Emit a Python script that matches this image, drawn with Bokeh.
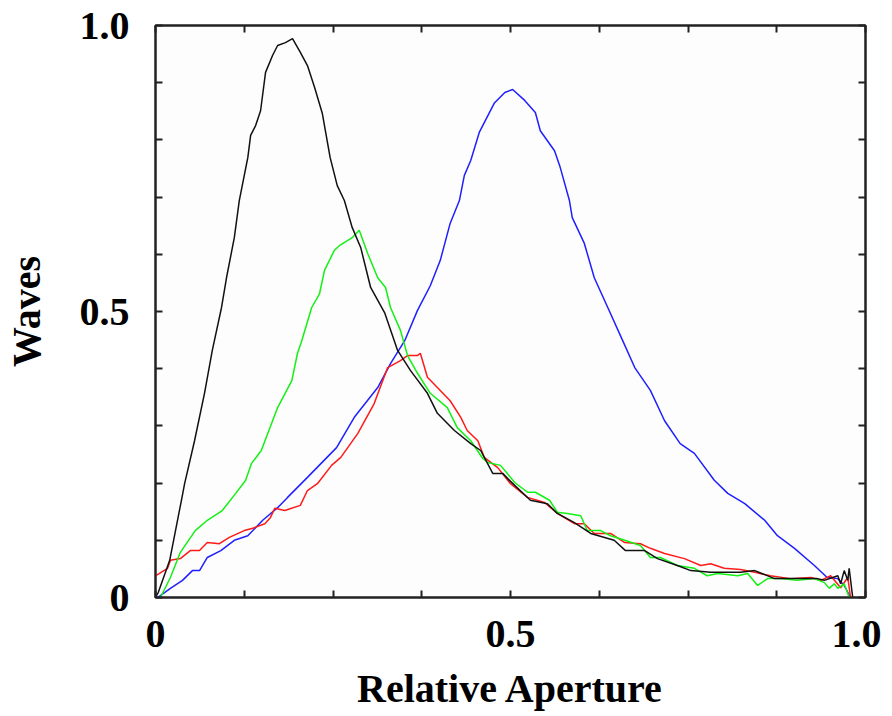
from bokeh.plotting import figure
from bokeh.models import Range1d, FixedTicker, LinearAxis
from bokeh.embed import file_html
from bokeh.resources import INLINE

# ---- data ----
black_x = [0, 0.004, 0.020, 0.037, 0.041, 0.055, 0.069, 0.080, 0.093, 0.100, 0.111, 0.118, 0.130, 0.134, 0.141,
           0.148, 0.155, 0.165, 0.172, 0.183, 0.193, 0.204, 0.214, 0.224, 0.235, 0.246, 0.256, 0.266, 0.277, 0.289,
           0.303, 0.323, 0.341, 0.359, 0.383, 0.397, 0.421, 0.444, 0.458, 0.475, 0.489, 0.500, 0.528, 0.552, 0.566,
           0.590, 0.613, 0.646, 0.662, 0.689, 0.707, 0.735, 0.754, 0.782, 0.824, 0.844, 0.872, 0.904, 0.932, 0.942,
           0.961, 0.965, 0.970, 0.975, 0.977, 0.982]
black_y = [0, 0.009, 0.065, 0.173, 0.199, 0.274, 0.357, 0.432, 0.507, 0.559, 0.629, 0.694, 0.769, 0.808, 0.825,
           0.851, 0.918, 0.948, 0.965, 0.970, 0.977, 0.953, 0.930, 0.892, 0.846, 0.769, 0.720, 0.694, 0.647, 0.612,
           0.542, 0.497, 0.432, 0.397, 0.357, 0.322, 0.292, 0.269, 0.257, 0.217, 0.217, 0.203, 0.170, 0.164, 0.147,
           0.131, 0.112, 0.100, 0.082, 0.082, 0.068, 0.056, 0.047, 0.044, 0.044, 0.047, 0.033, 0.033, 0.033, 0.030,
           0.038, 0.024, 0.047, 0.030, 0.051, 0.0]

green_x = [0.007, 0.021, 0.035, 0.056, 0.073, 0.094, 0.113, 0.127, 0.135, 0.149, 0.172, 0.192, 0.200, 0.206,
           0.220, 0.231, 0.238, 0.252, 0.259, 0.277, 0.287, 0.299, 0.313, 0.324, 0.331, 0.345, 0.355, 0.369, 0.387,
           0.411, 0.425, 0.444, 0.461, 0.468, 0.486, 0.506, 0.524, 0.535, 0.555, 0.566, 0.580, 0.599, 0.608, 0.627,
           0.641, 0.661, 0.683, 0.697, 0.711, 0.735, 0.759, 0.777, 0.792, 0.820, 0.834, 0.848, 0.862, 0.880, 0.904,
           0.928, 0.942, 0.949, 0.956, 0.961, 0.970, 0.977]
green_y = [0, 0.035, 0.079, 0.117, 0.135, 0.152, 0.182, 0.205, 0.234, 0.257, 0.332, 0.379, 0.427, 0.449,
           0.507, 0.531, 0.572, 0.607, 0.615, 0.629, 0.642, 0.601, 0.559, 0.542, 0.507, 0.467, 0.423, 0.392, 0.357,
           0.332, 0.297, 0.274, 0.243, 0.236, 0.231, 0.201, 0.184, 0.184, 0.170, 0.149, 0.147, 0.143, 0.117, 0.117,
           0.108, 0.100, 0.091, 0.070, 0.070, 0.056, 0.051, 0.038, 0.042, 0.038, 0.042, 0.021, 0.033, 0.033, 0.030,
           0.033, 0.026, 0.016, 0.024, 0.016, 0.024, 0]

blue_x = [0.003, 0.021, 0.038, 0.052, 0.062, 0.073, 0.092, 0.111, 0.130, 0.151, 0.172, 0.186, 0.214, 0.255,
          0.280, 0.313, 0.331, 0.351, 0.369, 0.387, 0.401, 0.415, 0.428, 0.435, 0.444, 0.456, 0.477, 0.492, 0.503,
          0.520, 0.535, 0.542, 0.562, 0.570, 0.583, 0.587, 0.604, 0.618, 0.637, 0.658, 0.675, 0.697, 0.717, 0.739,
          0.759, 0.787, 0.806, 0.830, 0.858, 0.876, 0.900, 0.928, 0.946, 0.961, 0.970, 0.979]
blue_y = [0, 0.016, 0.030, 0.047, 0.047, 0.070, 0.082, 0.100, 0.108, 0.135, 0.157, 0.175, 0.210, 0.262,
          0.315, 0.367, 0.409, 0.449, 0.502, 0.545, 0.589, 0.654, 0.694, 0.738, 0.764, 0.813, 0.864, 0.883, 0.888,
          0.869, 0.848, 0.816, 0.781, 0.752, 0.694, 0.664, 0.619, 0.559, 0.507, 0.449, 0.402, 0.362, 0.309, 0.269,
          0.252, 0.205, 0.182, 0.164, 0.135, 0.108, 0.086, 0.056, 0.035, 0.033, 0.021, 0]

red_x = [0, 0.017, 0.021, 0.035, 0.049, 0.062, 0.073, 0.090, 0.104, 0.125, 0.137, 0.154, 0.162, 0.168, 0.182,
         0.204, 0.214, 0.228, 0.248, 0.261, 0.285, 0.308, 0.327, 0.345, 0.355, 0.369, 0.373, 0.383, 0.397, 0.415,
         0.430, 0.439, 0.454, 0.463, 0.482, 0.500, 0.524, 0.548, 0.566, 0.590, 0.604, 0.618, 0.641, 0.661, 0.683,
         0.697, 0.717, 0.745, 0.768, 0.782, 0.801, 0.824, 0.844, 0.866, 0.894, 0.923, 0.937, 0.951, 0.965, 0.975,
         0.979]
red_y = [0.038, 0.051, 0.065, 0.068, 0.082, 0.082, 0.096, 0.094, 0.105, 0.117, 0.121, 0.129, 0.140, 0.156, 0.152,
         0.161, 0.187, 0.199, 0.231, 0.245, 0.287, 0.339, 0.402, 0.414, 0.423, 0.423, 0.427, 0.385, 0.367, 0.344,
         0.315, 0.292, 0.274, 0.245, 0.227, 0.199, 0.175, 0.166, 0.147, 0.129, 0.129, 0.112, 0.112, 0.096, 0.094,
         0.086, 0.077, 0.068, 0.056, 0.059, 0.051, 0.049, 0.044, 0.038, 0.033, 0.035, 0.030, 0.038, 0.017, 0.035,
         0]

x_ticks = [0, 0.125, 0.25, 0.375, 0.5, 0.625, 0.75, 0.875, 1.0]
x_tick_labels = {0: "0", 0.5: "0.5", 1.0: "1.0"}
y_ticks = [0, 0.1, 0.2, 0.3, 0.4, 0.5, 0.6, 0.7, 0.8, 0.9, 1.0]
y_tick_labels = {0: "0", 0.5: "0.5", 1.0: "1.0"}

FONT = "Liberation Serif"

p = figure(frame_width=710, frame_height=572, output_backend="svg", toolbar_location=None,
           x_range=Range1d(0, 1), y_range=Range1d(0, 1),
           min_border_left=150, min_border_right=16, min_border_top=25, min_border_bottom=108,
           x_axis_location="below", y_axis_location="left")
p.background_fill_color = "#fdfdfd"
p.border_fill_color = "white"
p.outline_line_color = "#222222"
p.outline_line_width = 2
p.grid.visible = False

def style_axis(ax, ticks, labels, show_labels):
    ax.ticker = FixedTicker(ticks=ticks)
    ax.minor_tick_line_color = None
    ax.major_tick_in = 7
    ax.major_tick_out = 0
    ax.major_tick_line_width = 2
    ax.major_tick_line_color = "#222222"
    ax.axis_line_color = "#222222"
    ax.axis_line_width = 2
    if show_labels:
        ax.major_label_overrides = {t: labels.get(t, "") for t in ticks}
        ax.major_label_text_font = FONT
        ax.major_label_text_font_style = "bold"
        ax.major_label_text_font_size = "40px"
        ax.major_label_text_color = "black"
        ax.axis_label_text_font = FONT
        ax.axis_label_text_font_style = "bold"
        ax.axis_label_text_font_size = "40px"
        ax.axis_label_text_color = "black"
    else:
        ax.major_label_text_font_size = "0px"
        ax.major_label_text_alpha = 0

xa = p.xaxis[0]
style_axis(xa, x_ticks, x_tick_labels, True)
xa.axis_label = "Relative Aperture"
xa.major_label_standoff = 23
xa.axis_label_standoff = 16

ya = p.yaxis[0]
style_axis(ya, y_ticks, y_tick_labels, True)
ya.axis_label = "Waves"
ya.major_label_standoff = 26
ya.axis_label_standoff = 28

top = LinearAxis()
style_axis(top, x_ticks, {}, False)
p.add_layout(top, "above")
right = LinearAxis()
style_axis(right, y_ticks, {}, False)
p.add_layout(right, "right")

p.line(blue_x, blue_y, line_color="#1f1fff", line_width=1.5)
p.line(red_x, red_y, line_color="#ff1a1a", line_width=1.5)
p.line(green_x, green_y, line_color="#14f014", line_width=1.5)
p.line(black_x, black_y, line_color="#111111", line_width=1.5)

open("out.html", "w").write(file_html(p, INLINE))
